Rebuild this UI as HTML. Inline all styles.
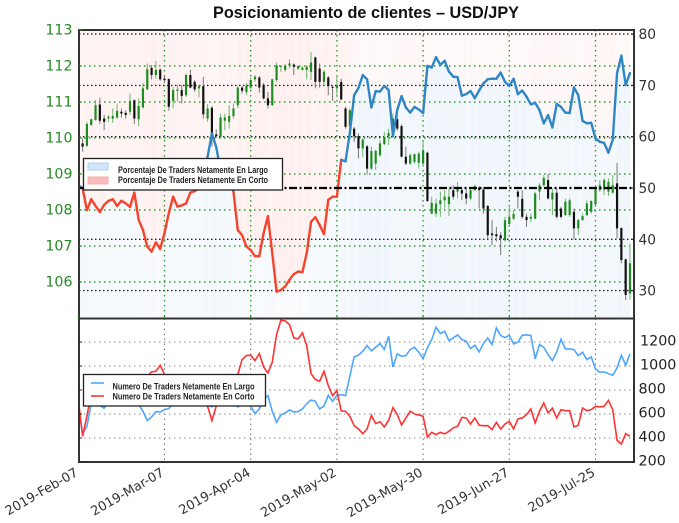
<!DOCTYPE html>
<html>
<head>
<meta charset="utf-8">
<style>
html,body{margin:0;padding:0;background:#fff;width:679px;height:523px;overflow:hidden}
svg{display:block;filter:blur(0.35px)}
text{font-family:"DejaVu Sans",sans-serif}
.lg{font-family:"Liberation Sans",sans-serif;font-weight:bold;font-size:8.8px;fill:#222}
</style>
</head>
<body>
<svg id="chart" xmlns="http://www.w3.org/2000/svg" width="679" height="523" viewBox="0 0 679 523">
  <text x="366" y="18" text-anchor="middle" textLength="306" lengthAdjust="spacingAndGlyphs" style="font-family:'Liberation Sans',sans-serif;font-weight:bold;font-size:16.5px;fill:#111">Posicionamiento de clientes – USD/JPY</text>
  <defs><clipPath id="mainClip"><rect x="79" y="30" width="555" height="288"/></clipPath><clipPath id="lowClip"><rect x="79" y="319" width="555" height="143"/></clipPath></defs>
  <g id="fills" clip-path="url(#mainClip)"></g>
  <g id="grid"></g>
  <g id="candles" clip-path="url(#mainClip)"></g>
  <g id="sentiment" clip-path="url(#mainClip)"></g>
  <g id="counts" clip-path="url(#lowClip)"></g>
  <g id="axes"></g>
  <g>
    <rect x="83.5" y="158.5" width="199" height="31.5" fill="#fff" stroke="#222" stroke-width="1.3"/>
    <rect x="88" y="163" width="20" height="7" fill="#cfe5fa" stroke="#a9d2f5"/>
    <rect x="88" y="177" width="20" height="7" fill="#fbbcbc" stroke="#f8a8a8"/>
    <text class="lg" x="118" y="173" textLength="150" lengthAdjust="spacingAndGlyphs">Porcentaje De Traders Netamente En Largo</text>
    <text class="lg" x="118" y="183" textLength="150" lengthAdjust="spacingAndGlyphs">Porcentaje De Traders Netamente En Corto</text>
  </g>
  <g>
    <rect x="83.5" y="374.5" width="182" height="31.5" fill="#fff" stroke="#222" stroke-width="1.3"/>
    <line x1="91" y1="383" x2="104" y2="383" stroke="#4da6ff" stroke-width="1.6"/>
    <line x1="91" y1="396" x2="104" y2="396" stroke="#ff3333" stroke-width="1.6"/>
    <text class="lg" x="112.5" y="389.5" textLength="142" lengthAdjust="spacingAndGlyphs">Numero De Traders Netamente En Largo</text>
    <text class="lg" x="112.5" y="399.5" textLength="142" lengthAdjust="spacingAndGlyphs">Numero De Traders Netamente En Corto</text>
  </g>
</svg>
<script>
const priceTicks = [113,112,111,110,109,108,107,106];
const pctTicks = [80,70,60,50,40,30];
const countTicks = [1200,1000,800,600,400,200];
const dateLabels = ["2019-Feb-07","2019-Mar-07","2019-Apr-04","2019-May-02","2019-May-30","2019-Jun-27","2019-Jul-25"];
const opens = [109.80,109.85,109.78,110.36,110.50,110.93,110.54,110.55,110.54,110.57,110.73,110.70,110.73,111.05,110.52,110.85,111.35,111.95,111.75,111.90,111.65,111.64,111.03,111.31,111.33,111.19,111.75,111.56,111.38,111.44,110.54,110.84,110.10,110.03,110.48,110.45,110.61,110.91,111.40,111.28,111.40,111.63,111.68,111.48,111.10,110.91,111.61,111.98,111.89,112.01,112.04,111.93,111.90,111.89,111.84,112.24,111.93,111.56,111.68,111.42,111.38,111.56,110.82,110.33,110.26,110.05,109.71,109.77,109.15,109.29,109.52,109.83,110.05,110.08,110.52,110.33,109.48,109.29,109.34,109.31,109.29,109.59,107.90,107.90,108.16,108.27,108.16,108.55,108.51,108.55,108.46,108.32,108.55,108.62,108.57,108.11,107.35,107.33,107.30,107.16,107.61,107.76,108.51,108.31,107.81,107.76,107.76,108.51,108.69,108.83,108.29,108.48,108.04,107.86,107.86,107.95,107.49,107.72,107.86,107.95,108.16,108.55,108.57,108.51,108.48,108.74,107.50,106.63,105.68];
const closes = [109.78,109.76,110.39,110.52,110.91,110.48,110.45,110.59,110.61,110.75,110.68,110.64,111.03,110.54,110.89,111.38,111.91,111.75,111.89,111.63,111.61,110.87,111.33,111.35,111.17,111.75,111.40,111.35,111.44,110.66,110.82,110.13,110.05,110.57,110.57,110.61,110.82,111.40,111.31,111.45,111.61,111.70,111.40,111.10,110.91,111.63,112.02,112.01,112.01,112.07,111.98,112.00,111.95,111.98,112.10,111.56,111.56,111.84,111.44,111.40,111.47,111.07,110.31,110.77,110.05,109.71,109.96,109.15,109.64,109.64,109.85,110.03,110.14,110.54,110.26,109.48,109.29,109.52,109.55,109.57,109.66,108.25,108.20,108.18,108.27,108.37,108.37,108.37,108.60,108.46,108.32,108.55,108.66,108.55,108.04,107.30,107.30,107.27,107.21,107.72,107.81,107.89,108.37,107.81,107.72,107.81,108.46,108.69,108.89,108.32,108.48,107.81,107.81,108.23,108.27,107.49,107.72,107.83,108.18,108.25,108.60,108.69,108.83,108.78,108.69,107.49,106.61,105.64,106.52];
const highs = [109.85,109.99,110.45,110.54,111.05,111.12,110.64,110.64,110.82,110.96,110.82,110.77,111.24,111.07,111.10,111.52,112.07,112.02,112.14,111.93,111.75,111.65,111.42,111.47,111.47,111.79,111.90,111.61,111.47,111.70,110.94,110.89,110.24,110.68,110.68,110.91,110.96,111.44,111.44,111.52,111.68,111.75,111.72,111.53,111.28,111.65,112.09,112.02,112.05,112.18,112.07,112.02,112.00,112.02,112.39,112.26,112.07,111.89,111.72,111.47,111.75,111.65,110.87,110.82,110.31,110.13,109.99,109.80,109.76,109.68,109.94,110.17,110.26,110.68,110.64,110.38,109.76,109.57,109.57,109.62,109.94,109.62,108.37,108.32,108.51,108.55,108.60,108.69,108.78,108.60,108.60,108.64,108.71,108.66,108.64,108.14,107.72,107.53,107.39,107.81,108.09,108.00,108.55,108.55,107.90,107.90,108.51,108.74,108.97,109.00,108.60,108.60,108.09,108.32,108.32,108.04,107.76,107.90,108.27,108.27,108.69,108.83,108.88,108.88,108.97,109.31,107.51,106.65,107.07];
const lows = [109.70,109.62,109.76,110.33,110.48,110.39,110.22,110.45,110.42,110.53,110.57,110.54,110.64,110.39,110.33,110.82,111.33,111.63,111.65,111.59,111.52,110.76,110.82,111.01,110.96,111.14,111.38,111.28,111.13,110.54,110.45,109.76,109.99,109.99,110.22,110.26,110.54,110.82,111.24,111.19,111.35,111.56,111.26,111.07,110.82,110.89,111.56,111.84,111.84,111.93,111.75,111.89,111.87,111.63,111.61,111.38,111.40,111.47,111.19,111.03,111.14,111.05,110.26,110.26,109.89,109.43,109.48,108.99,109.11,109.11,109.48,109.80,109.80,110.02,110.20,109.46,109.25,109.25,109.29,109.15,109.22,108.23,107.88,107.81,107.81,108.04,107.83,108.29,108.32,108.27,108.16,108.27,108.53,108.04,107.90,107.21,107.02,107.12,106.75,107.12,107.53,107.72,108.04,107.76,107.53,107.67,107.74,108.27,108.64,108.29,107.86,107.76,107.76,107.83,107.81,107.18,107.30,107.70,107.83,107.90,108.14,108.51,108.41,108.39,108.46,107.21,106.52,105.50,105.51];
const sentimentPct = [50.6,49.9,45.7,47.8,46.5,45.3,46.7,47.5,47.8,46.5,47.5,47,46.3,49.1,43.8,41.8,38.6,37.6,39.4,38.1,41.2,45.1,48.3,46.4,46.6,47,49.1,49.4,49.9,52.9,56.1,60.6,58,53.5,52,51.6,49.3,41.8,40.8,38.6,37.9,36.7,36.7,41.2,44.5,37.3,29.8,30.1,30.8,32.1,33.2,33.7,33.6,37.3,43.4,44.3,42.8,41,47.7,48.3,48.3,55.5,55.2,60.7,68.1,69.5,72,71.2,65.7,68.9,68.8,69.9,69.1,60.1,65.2,67.9,65.7,64.7,65.8,65.3,64.6,73.8,73.5,75.5,74,74.8,72.7,71.7,71.6,68,68.3,68.9,67.5,69,70.4,71.2,71.3,71.3,72.5,70.7,69.9,71.3,68.3,69,67.8,66.3,66.6,65.2,62.6,64.2,61.8,66.4,65.8,64.7,64.6,69.6,68.1,63.1,62.6,62.7,59.7,59,58.8,56.9,59.4,72.4,75.8,70.1,72.4];
const longCount = [664,436,497,692,678,670,648,706,720,714,725,706,692,706,678,623,545,575,620,617,636,645,692,700,690,710,720,730,700,690,670,660,680,700,720,710,690,659,678,692,664,603,642,725,753,623,531,592,609,634,617,620,642,686,717,706,642,667,756,706,753,762,753,914,1076,1090,1123,1170,1126,1156,1187,1137,1248,992,1101,1081,1087,1137,1156,1115,1062,1151,1220,1323,1270,1290,1212,1234,1259,1220,1206,1145,1173,1117,1187,1234,1179,1318,1254,1237,1256,1184,1200,1256,1259,1254,1059,1179,1156,1095,1045,1117,1223,1142,1142,1137,1087,1115,1053,1076,976,948,951,937,923,984,1090,1006,1101];
const shortCount = [720,414,581,775,720,700,720,740,760,750,770,780,800,790,800,845,914,951,956,1006,928,880,840,800,760,730,720,700,690,680,664,545,664,720,700,690,720,928,1053,1087,1090,1045,1103,992,942,1031,1262,1381,1376,1345,1234,1226,1276,1170,937,887,873,956,837,753,795,625,623,581,503,475,436,475,589,520,536,492,547,653,595,509,567,623,600,592,581,408,447,428,447,434,456,484,497,572,567,517,567,506,503,503,470,531,475,517,539,475,559,567,595,642,525,623,692,609,648,567,636,628,628,492,506,650,628,636,664,659,664,714,636,381,350,436,414];

const NS = 'http://www.w3.org/2000/svg';
const L = 79, R = 634, T = 30, MID = 318.5, B = 462;
const tickStep = 20;
const xs = k => 78.3 + 4.31 * k;
const yPrice = p => 282 - 36 * (p - 106);
const yPct = v => 188 - 5.13 * (v - 50);
const yCount = v => 462 - (v - 200) * 0.12;
function mk(parent, tag, attrs, text) {
  const el = document.createElementNS(NS, tag);
  for (const a in attrs) el.setAttribute(a, attrs[a]);
  if (text !== undefined) el.textContent = text;
  parent.appendChild(el);
  return el;
}
const $ = id => document.getElementById(id);

/* background fills between line and panel edges */
for (let k = 0; k < sentimentPct.length - 1; k++) {
  const x0 = xs(k), x1 = xs(k + 1) + 0.15;
  const y0 = yPct(sentimentPct[k]), y1 = yPct(sentimentPct[k + 1]);
  const v = sentimentPct[k];
  const stripe = k % 2 ? 1 : 0.85;
  const up = mk($('fills'), 'polygon', {points: `${x0},${T} ${x1},${T} ${x1},${y1} ${x0},${y0}`, fill: 'rgb(255,60,60)', 'fill-opacity': ((100 - v) / 100 * 0.12 * stripe).toFixed(3)});
  
  
  const dn = mk($('fills'), 'polygon', {points: `${x0},${y0} ${x1},${y1} ${x1},${MID} ${x0},${MID}`, fill: 'rgb(60,130,210)', 'fill-opacity': (v / 100 * 0.1 * stripe).toFixed(3)});
  
  
}

/* grid */
const grid = $('grid');
function gridLine(x1, y1, x2, y2, color, w, dash, name) {
  const g = mk(grid, 'line', {x1, y1, x2, y2, stroke: color, 'stroke-width': w, 'stroke-dasharray': dash});
  
  
}
priceTicks.slice(1).forEach(p => gridLine(L, yPrice(p), R, yPrice(p), '#2e9e2e', 1.4, '1.5 3.5', 'price-gridline'));
pctTicks.forEach(v => { if (v !== 50) gridLine(L, yPct(v), R, yPct(v), '#222', 1.4, '1.5 2.5', 'percent-gridline'); });
dateLabels.forEach((d, i) => {
  if (i > 0) {
    gridLine(xs(i * tickStep), T, xs(i * tickStep), MID, '#2e9e2e', 1.4, '1.5 3.5', 'date-gridline-main');
    gridLine(xs(i * tickStep), MID, xs(i * tickStep), B, '#777', 1.1, '1.5 3.5', 'date-gridline-lower');
  }
});
countTicks.slice(0, -1).forEach(v => gridLine(L, yCount(v), R, yCount(v), '#888', 1.1, '1.5 3.5', 'count-gridline'));

/* candles */
opens.forEach((o, k) => {
  const c = closes[k], up = c >= o;
  const col = up ? '#1e8c1e' : '#111';
  const w = mk($('candles'), 'line', {x1: xs(k), x2: xs(k), y1: yPrice(highs[k]), y2: yPrice(lows[k]), stroke: up ? '#6fb46f' : '#777', 'stroke-width': 1});
  
  
  const top = yPrice(Math.max(o, c)), h = Math.max(1, Math.abs(yPrice(o) - yPrice(c)));
  const b = mk($('candles'), 'rect', {x: xs(k) - 1.1, y: top, width: 2.2, height: h, fill: col});
  
  
});

/* sentiment line: each segment coloured by its starting value */
for (let k = 0; k < sentimentPct.length - 1; k++) {
  const blue = sentimentPct[k] >= 50;
  const s = mk($('sentiment'), 'line', {x1: xs(k), y1: yPct(sentimentPct[k]), x2: xs(k + 1), y2: yPct(sentimentPct[k + 1]), stroke: blue ? '#2f86c5' : '#f4442e', 'stroke-width': 2.4, 'stroke-linecap': 'round'});
  
  
}
const fifty = mk($('sentiment'), 'line', {x1: L, x2: R, y1: yPct(50), y2: yPct(50), stroke: '#000', 'stroke-width': 2.2, 'stroke-dasharray': '8 2.5 2 2.5'});



/* lower panel */
const longLine = mk($('counts'), 'polyline', {points: longCount.map((v, k) => xs(k) + ',' + yCount(v)).join(' '), fill: 'none', stroke: '#4da6ff', 'stroke-width': 1.6});


const shortLine = mk($('counts'), 'polyline', {points: shortCount.map((v, k) => xs(k) + ',' + yCount(v)).join(' '), fill: 'none', stroke: '#ff3333', 'stroke-width': 1.6});



/* axes */
const axes = $('axes');
const frame1 = mk(axes, 'rect', {x: L, y: T, width: R - L, height: MID - T, fill: 'none', stroke: '#333', 'stroke-width': 2});


const frame2 = mk(axes, 'rect', {x: L, y: MID, width: R - L, height: B - MID, fill: 'none', stroke: '#333', 'stroke-width': 2});


priceTicks.forEach(p => {
  const t = mk(axes, 'text', {x: 72.5, y: yPrice(p) + 4.5, 'text-anchor': 'end', 'font-size': 14.2, fill: '#228b22'}, String(p));
  
  
  const m = mk(axes, 'line', {x1: L, x2: L + 3, y1: yPrice(p), y2: yPrice(p), stroke: '#228b22'});
  
  
});
pctTicks.forEach(v => {
  const t = mk(axes, 'text', {x: 638.5, y: yPct(v) + 5, 'font-size': 13.8, fill: '#333'}, String(v));
  
  
  const m = mk(axes, 'line', {x1: R - 3, x2: R, y1: yPct(v), y2: yPct(v), stroke: '#222'});
  
  
});
countTicks.forEach(v => {
  const t = mk(axes, 'text', {x: v >= 1000 ? 640 : 638.5, y: yCount(v) + 3.5, 'font-size': 14.3, fill: '#222'}, String(v));
  
  
  const m = mk(axes, 'line', {x1: L, x2: L + 3, y1: yCount(v), y2: yCount(v), stroke: '#222'});
  
  
});
dateLabels.forEach((d, i) => {
  const x = xs(i * tickStep);
  const t = mk(axes, 'text', {x: x + 0.5, y: 475, 'text-anchor': 'end', 'font-size': 12.9, fill: '#333', transform: `rotate(-30 ${x + 0.5} 475)`}, d);
  
  
  const m = mk(axes, 'line', {x1: x, x2: x, y1: MID - 3, y2: MID, stroke: '#228b22'});
  
  
});
</script>
</body>
</html>
